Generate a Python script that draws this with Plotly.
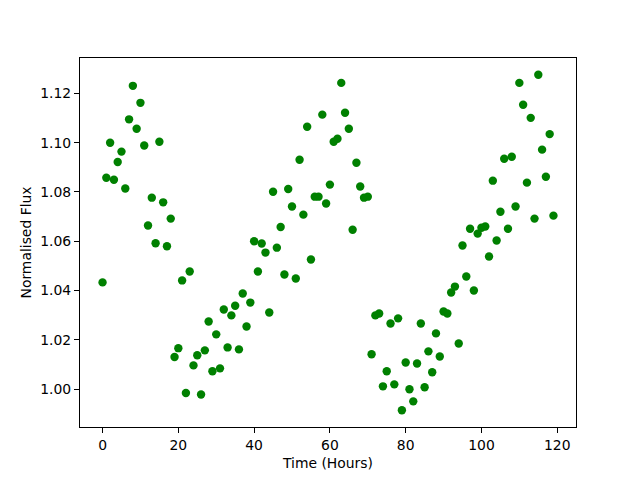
import plotly.graph_objects as go

time_hours = list(range(120))
flux = [
    1.0433, 1.0858, 1.1000, 1.0850, 1.0922, 1.0964, 1.0814, 1.1095, 1.1231, 1.1057,
    1.1162, 1.0989, 1.0664, 1.0777, 1.0592, 1.1004, 1.0758, 1.0580, 1.0692, 1.0130,
    1.0166, 1.0441, 0.9984, 1.0477, 1.0096, 1.0137, 0.9978, 1.0157, 1.0274, 1.0072,
    1.0222, 1.0084, 1.0323, 1.0169, 1.0299, 1.0338, 1.0161, 1.0388, 1.0254, 1.0351,
    1.0600, 1.0477, 1.0591, 1.0554, 1.0311, 1.0801, 1.0574, 1.0658, 1.0465, 1.0812,
    1.0741, 1.0449, 1.0931, 1.0708, 1.1065, 1.0526, 1.0781, 1.0781, 1.1114, 1.0753,
    1.0830, 1.1004, 1.1016, 1.1243, 1.1122, 1.1057, 1.0647, 1.0919, 1.0822, 1.0777,
    1.0781, 1.0141, 1.0299, 1.0307, 1.0011, 1.0072, 1.0266, 1.0019, 1.0287, 0.9914,
    1.0108, 0.9999, 0.9950, 1.0104, 1.0266, 1.0007, 1.0153, 1.0068, 1.0226, 1.0132,
    1.0315, 1.0307, 1.0392, 1.0416, 1.0185, 1.0583, 1.0457, 1.0651, 1.0400, 1.0631,
    1.0655, 1.0660, 1.0538, 1.0846, 1.0603, 1.0720, 1.0935, 1.0651, 1.0943, 1.0741,
    1.1243, 1.1154, 1.0838, 1.1101, 1.0692, 1.1276, 1.0972, 1.0862, 1.1035, 1.0704,
]
x_ticks = [0, 20, 40, 60, 80, 100, 120]
y_ticks = [1.00, 1.02, 1.04, 1.06, 1.08, 1.10, 1.12]

fig = go.Figure(
    go.Scatter(
        x=time_hours, y=flux, mode="markers",
        marker=dict(color="#008000", size=8.4, line=dict(width=0)),
    )
)

axis_common = dict(
    showline=True, linecolor="black", linewidth=1.1, mirror=True,
    ticks="outside", ticklen=5, tickwidth=1.1, tickcolor="black",
    showgrid=False, zeroline=False,
    tickfont=dict(family="DejaVu Sans", size=13.9, color="black"),
)

# page body has an 8px default margin, so margins are offset by 8px
fig.update_layout(
    width=640, height=480,
    margin=dict(l=72, r=72, t=50, b=61, autoexpand=False),
    paper_bgcolor="white", plot_bgcolor="white",
    showlegend=False,
    font=dict(family="DejaVu Sans", size=13.9, color="black"),
    xaxis=dict(
        range=[-5.95, 124.95], tickvals=x_ticks,
        ticktext=[str(v) for v in x_ticks],
        title=dict(text="Time (Hours)", standoff=6,
                   font=dict(family="DejaVu Sans", size=13.9, color="black")),
        **axis_common,
    ),
    yaxis=dict(
        range=[0.98459, 1.1344], tickvals=y_ticks,
        ticktext=[f"{v:.2f}" for v in y_ticks],
        title=dict(text="Normalised Flux", standoff=5,
                   font=dict(family="DejaVu Sans", size=13.9, color="black")),
        **axis_common,
    ),
)

fig.write_html("out.html")
